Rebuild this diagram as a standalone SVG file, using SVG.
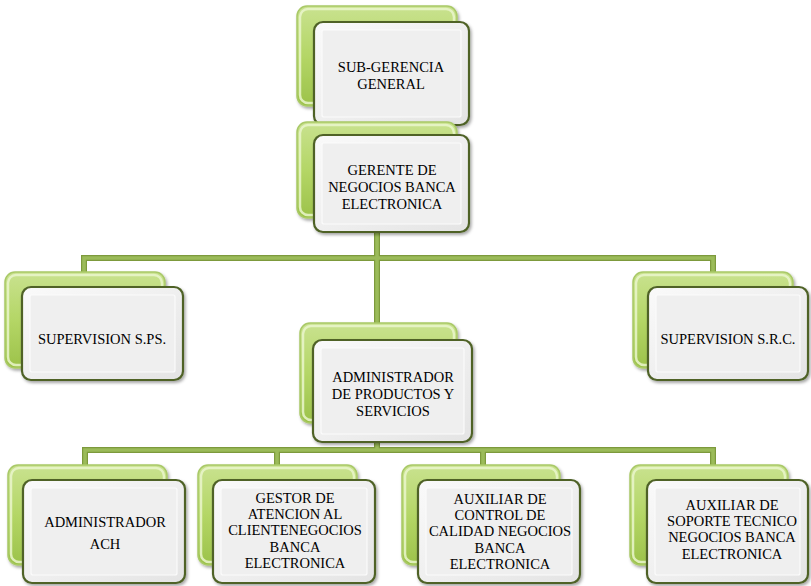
<svg xmlns="http://www.w3.org/2000/svg" width="811" height="586" viewBox="0 0 811 586">
<defs>
<linearGradient id="gback" x1="0" y1="0" x2="0" y2="1">
<stop offset="0" stop-color="#c9e28f"/>
<stop offset="0.5" stop-color="#b4d666"/>
<stop offset="1" stop-color="#9cc24a"/>
</linearGradient>
<linearGradient id="gfront" x1="0" y1="0" x2="1" y2="1">
<stop offset="0" stop-color="#fafafa"/>
<stop offset="1" stop-color="#e4e4e4"/>
</linearGradient>
<filter id="sh" x="-10%" y="-10%" width="130%" height="130%">
<feDropShadow dx="1.5" dy="2" stdDeviation="1.5" flood-color="#000" flood-opacity="0.35"/>
</filter>
</defs>
<style>
.back{fill:url(#gback);stroke:#a9c967;stroke-width:1.5;filter:url(#sh)}
.bhi{fill:none;stroke:#eaf6cc;stroke-width:2.5;opacity:0.85}
.front{fill:url(#gfront);stroke:#4f6228;stroke-width:2.2;filter:url(#sh)}
.inner{fill:#efefef;stroke:#fbfbfb;stroke-width:1.2}
.c1{fill:none;stroke:#7d9a3c;stroke-width:6;stroke-linejoin:miter}
.c2{fill:none;stroke:#9bbb59;stroke-width:3.6;stroke-linejoin:miter}
.t{font-family:'Liberation Serif','DejaVu Serif',serif;font-size:14.5px;fill:#000;text-anchor:middle}
</style>
<g id="connectors">
<path class="c1" d="M377 120V140M377 230V258M84 272V258H713V272M377 258V323M377 440V450M85 465V450H713V465M277 450V465M483 450V465"/>
<path class="c2" d="M377 120V140M377 230V258M84 272V258H713V272M377 258V323M377 440V450M85 465V450H713V465M277 450V465M483 450V465"/>
</g>
<g id="n1">
<rect class="back" x="297" y="6" width="160" height="100" rx="10"/>
<rect class="bhi" x="300" y="9" width="154" height="94" rx="8"/>
<rect class="front" x="314" y="22" width="155" height="103" rx="9"/>
<rect class="inner" x="322" y="30" width="139" height="87" rx="2"/>
<g class="t">
<text x="391" y="72">SUB-GERENCIA</text>
<text x="391" y="89">GENERAL</text>
</g>
</g>
<g id="n2">
<rect class="back" x="297" y="122" width="160" height="96" rx="10"/>
<rect class="bhi" x="300" y="125" width="154" height="90" rx="8"/>
<rect class="front" x="314" y="135" width="155" height="97" rx="9"/>
<rect class="inner" x="322" y="143" width="139" height="81" rx="2"/>
<g class="t">
<text x="392" y="175">GERENTE DE</text>
<text x="392" y="192">NEGOCIOS BANCA</text>
<text x="392" y="209">ELECTRONICA</text>
</g>
</g>
<g id="n3">
<rect class="back" x="5" y="272" width="160" height="96" rx="10"/>
<rect class="bhi" x="8" y="275" width="154" height="90" rx="8"/>
<rect class="front" x="22" y="287" width="161" height="93" rx="9"/>
<rect class="inner" x="30" y="295" width="145" height="77" rx="2"/>
<g class="t">
<text x="102" y="344">SUPERVISION S.PS.</text>
</g>
</g>
<g id="n4">
<rect class="back" x="633" y="272" width="160" height="96" rx="10"/>
<rect class="bhi" x="636" y="275" width="154" height="90" rx="8"/>
<rect class="front" x="648" y="287" width="160" height="93" rx="9"/>
<rect class="inner" x="656" y="295" width="144" height="77" rx="2"/>
<g class="t">
<text x="728" y="344">SUPERVISION S.R.C.</text>
</g>
</g>
<g id="n5">
<rect class="back" x="300" y="323" width="157" height="100" rx="10"/>
<rect class="bhi" x="303" y="326" width="151" height="94" rx="8"/>
<rect class="front" x="313" y="340" width="159" height="102" rx="9"/>
<rect class="inner" x="321" y="348" width="143" height="86" rx="2"/>
<g class="t">
<text x="393" y="382">ADMINISTRADOR</text>
<text x="393" y="399">DE PRODUCTOS Y</text>
<text x="393" y="416">SERVICIOS</text>
</g>
</g>
<g id="n6">
<rect class="back" x="8" y="465" width="159" height="100" rx="10"/>
<rect class="bhi" x="11" y="468" width="153" height="94" rx="8"/>
<rect class="front" x="23" y="480" width="162" height="103" rx="9"/>
<rect class="inner" x="31" y="488" width="146" height="87" rx="2"/>
<g class="t">
<text x="105" y="527">ADMINISTRADOR</text>
<text x="105" y="549">ACH</text>
</g>
</g>
<g id="n7">
<rect class="back" x="198" y="465" width="159" height="100" rx="10"/>
<rect class="bhi" x="201" y="468" width="153" height="94" rx="8"/>
<rect class="front" x="213" y="480" width="162" height="103" rx="9"/>
<rect class="inner" x="221" y="488" width="146" height="87" rx="2"/>
<g class="t">
<text x="295" y="503">GESTOR DE</text>
<text x="295" y="519">ATENCION AL</text>
<text x="295" y="535">CLIENTENEGOCIOS</text>
<text x="295" y="552">BANCA</text>
<text x="295" y="568">ELECTRONICA</text>
</g>
</g>
<g id="n8">
<rect class="back" x="402" y="465" width="158" height="100" rx="10"/>
<rect class="bhi" x="405" y="468" width="152" height="94" rx="8"/>
<rect class="front" x="418" y="480" width="162" height="103" rx="9"/>
<rect class="inner" x="426" y="488" width="146" height="87" rx="2"/>
<g class="t">
<text x="500" y="504">AUXILIAR DE</text>
<text x="500" y="520">CONTROL DE</text>
<text x="500" y="536">CALIDAD NEGOCIOS</text>
<text x="500" y="553">BANCA</text>
<text x="500" y="569">ELECTRONICA</text>
</g>
</g>
<g id="n9">
<rect class="back" x="630" y="465" width="158" height="100" rx="10"/>
<rect class="bhi" x="633" y="468" width="152" height="94" rx="8"/>
<rect class="front" x="647" y="480" width="161" height="103" rx="9"/>
<rect class="inner" x="655" y="488" width="145" height="87" rx="2"/>
<g class="t">
<text x="732" y="510">AUXILIAR DE</text>
<text x="732" y="526">SOPORTE TECNICO</text>
<text x="732" y="542">NEGOCIOS BANCA</text>
<text x="732" y="559">ELECTRONICA</text>
</g>
</g>
</svg>
